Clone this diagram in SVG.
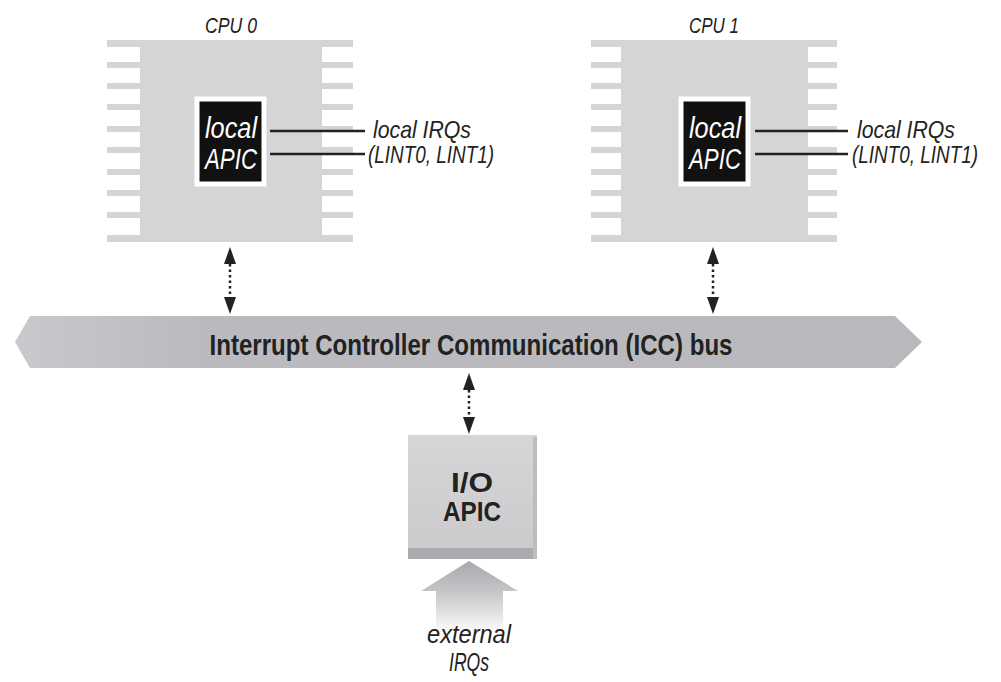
<svg xmlns="http://www.w3.org/2000/svg" width="1001" height="682" viewBox="0 0 1001 682">
<style>
.chip{fill:#d5d5d7}
.apic{fill:#111;stroke:#fff;stroke-width:5}
.lbl{font-family:"Liberation Sans",Arial,sans-serif;font-style:italic;fill:#222}
.wl{font-family:"Liberation Sans",Arial,sans-serif;font-style:italic;fill:#fff}
.bold{font-family:"Liberation Sans",Arial,sans-serif;font-weight:bold;fill:#222}
.irq{stroke:#222;stroke-width:2.5}
.dot{stroke:#222;stroke-width:2.5;stroke-dasharray:2.5,3}
.head{fill:#222}
</style>
<defs>
<linearGradient id="busg" x1="0" y1="0" x2="1" y2="0">
<stop offset="0" stop-color="#c9c9cd"/>
<stop offset="0.2" stop-color="#bbbbbf"/>
<stop offset="1" stop-color="#b9b9bd"/>
</linearGradient>
<linearGradient id="iog" x1="0" y1="0" x2="0" y2="1">
<stop offset="0" stop-color="#d6d6d8"/>
<stop offset="1" stop-color="#cacacc"/>
</linearGradient>
<linearGradient id="upg" x1="0" y1="0" x2="0" y2="1">
<stop offset="0" stop-color="#a9a9ad"/>
<stop offset="0.45" stop-color="#c8c8cb"/>
<stop offset="1" stop-color="#ffffff"/>
</linearGradient>
<g id="pins">
<rect x="0" y="0" width="246" height="7"/>
<rect x="0" y="22" width="246" height="6"/>
<rect x="0" y="43" width="246" height="6"/>
<rect x="0" y="64" width="246" height="6"/>
<rect x="0" y="86" width="246" height="6"/>
<rect x="0" y="107" width="246" height="6"/>
<rect x="0" y="129" width="246" height="6"/>
<rect x="0" y="150" width="246" height="6"/>
<rect x="0" y="172" width="246" height="6"/>
<rect x="0" y="195" width="246" height="7"/>
</g>
</defs>

<g id="cpu0">
<text class="lbl" x="231" y="33" font-size="22" text-anchor="middle" textLength="52" lengthAdjust="spacingAndGlyphs">CPU 0</text>
<use href="#pins" x="107" y="40" class="chip"/>
<rect class="chip" x="140" y="40" width="182" height="202"/>
</g>
<g id="apic0">
<rect class="apic" x="197" y="99" width="67" height="85"/>
<text class="wl" x="231" y="138" font-size="30" text-anchor="middle" textLength="52" lengthAdjust="spacingAndGlyphs">local</text>
<text class="wl" x="231" y="169" font-size="30" text-anchor="middle" textLength="52" lengthAdjust="spacingAndGlyphs">APIC</text>
</g>
<g id="lirq0">
<line class="irq" x1="270" y1="131" x2="365" y2="131"/>
<line class="irq" x1="270" y1="154" x2="365" y2="154"/>
<text class="lbl" x="373" y="138" font-size="24" textLength="98" lengthAdjust="spacingAndGlyphs">local IRQs</text>
<text class="lbl" x="368" y="163" font-size="23" textLength="126" lengthAdjust="spacingAndGlyphs">(LINT0, LINT1)</text>
</g>

<g id="cpu1">
<text class="lbl" x="714" y="33" font-size="22" text-anchor="middle" textLength="50" lengthAdjust="spacingAndGlyphs">CPU 1</text>
<use href="#pins" x="591" y="40" class="chip"/>
<rect class="chip" x="621" y="40" width="187" height="202"/>
</g>
<g id="apic1">
<rect class="apic" x="681" y="99" width="67" height="85"/>
<text class="wl" x="715" y="138" font-size="30" text-anchor="middle" textLength="52" lengthAdjust="spacingAndGlyphs">local</text>
<text class="wl" x="715" y="169" font-size="30" text-anchor="middle" textLength="52" lengthAdjust="spacingAndGlyphs">APIC</text>
</g>
<g id="lirq1">
<line class="irq" x1="755" y1="131" x2="848" y2="131"/>
<line class="irq" x1="755" y1="154" x2="848" y2="154"/>
<text class="lbl" x="857" y="138" font-size="24" textLength="98" lengthAdjust="spacingAndGlyphs">local IRQs</text>
<text class="lbl" x="852" y="163" font-size="23" textLength="126" lengthAdjust="spacingAndGlyphs">(LINT0, LINT1)</text>
</g>

<g id="bus">
<polygon points="15,342 30,316 895,316 922,342 895,368 30,368" fill="url(#busg)"/>
<text class="bold" x="471" y="355" font-size="29" text-anchor="middle" textLength="523" lengthAdjust="spacingAndGlyphs">Interrupt Controller Communication (ICC) bus</text>
</g>

<g id="ioapic">
<rect x="408" y="435" width="129" height="124" fill="url(#iog)"/>
<rect x="408" y="548" width="129" height="11" fill="#ababaf"/>
<rect x="533" y="437" width="4" height="122" fill="#bdbdc0"/>
<text class="bold" x="472" y="492" font-size="28" text-anchor="middle" textLength="42" lengthAdjust="spacingAndGlyphs">I/O</text>
<text class="bold" x="472" y="521" font-size="28" text-anchor="middle" textLength="58" lengthAdjust="spacingAndGlyphs">APIC</text>
</g>

<g id="extirq">
<polygon points="469,561 518,591 503,591 503,634 436,634 436,591 421,591" fill="url(#upg)"/>
<text class="lbl" x="469" y="643" font-size="26" text-anchor="middle" textLength="84" lengthAdjust="spacingAndGlyphs">external</text>
<text class="lbl" x="469" y="671" font-size="26" text-anchor="middle" textLength="40" lengthAdjust="spacingAndGlyphs">IRQs</text>
</g>

<g id="connectors">
<line class="dot" x1="230" y1="264" x2="230" y2="298"/>
<polygon class="head" points="230,247 236,264 224,264"/>
<polygon class="head" points="230,314 236,297 224,297"/>
<line class="dot" x1="713" y1="264" x2="713" y2="298"/>
<polygon class="head" points="713,247 719,264 707,264"/>
<polygon class="head" points="713,314 719,297 707,297"/>
<line class="dot" x1="469" y1="390" x2="469" y2="418"/>
<polygon class="head" points="469,373 475,390 463,390"/>
<polygon class="head" points="469,434 475,417 463,417"/>
</g>
</svg>
